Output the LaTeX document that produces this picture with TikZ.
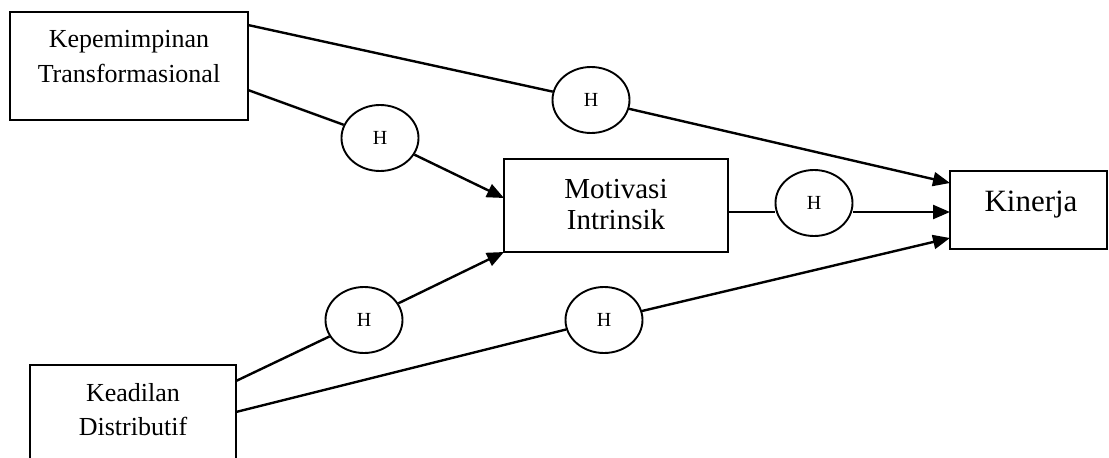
\documentclass[tikz,border=0pt]{standalone}
\usepackage{fontspec}
\setmainfont{Liberation Serif}
\usetikzlibrary{arrows.meta,shapes.geometric}
\begin{document}
\begin{tikzpicture}[x=1pt,y=-1pt,
  box/.style={draw,line width=1.8pt,inner sep=0pt},
  hyp/.style={draw,ellipse,line width=1.9pt,fill=white,minimum width=77pt,
    minimum height=66pt,inner sep=0pt,font=\fontsize{20}{24}\selectfont},
  link/.style={line width=2.4pt},
  arr/.style={link,-{Triangle[length=17pt,width=14pt]}},
  txt/.style={align=center,inner sep=0pt,anchor=base}]
\clip (0,0) rectangle (1109,458);

% variable boxes
\node[box,minimum width=238pt,minimum height=108pt] (kt) at (129,66) {};
\node[box,minimum width=206pt,minimum height=108pt] (kd) at (133,419) {};
\node[box,minimum width=224pt,minimum height=93pt] (mi) at (616,205.5) {};
\node[box,minimum width=157pt,minimum height=78pt] (ki) at (1028.5,210) {};

% box labels (anchored on the baseline of their last line)
\node[txt,font=\fontsize{26}{35}\selectfont] (ktl) at (129,82) {Kepemimpinan\\Transformasional};
\node[txt,font=\fontsize{26}{34}\selectfont] (kdl) at (133,435) {Keadilan\\Distributif};
\node[txt,font=\fontsize{29}{31}\selectfont] (mil) at (616,229) {Motivasi\\Intrinsik};
\node[txt,font=\fontsize{31}{34}\selectfont] (kil) at (1031,211) {Kinerja};

% hypothesis ellipses
\node[hyp] (hA) at (591,100) {H};
\node[hyp] (hB) at (380,138) {H};
\node[hyp] (hC) at (814,203) {H};
\node[hyp] (hD) at (364,320) {H};
\node[hyp] (hE) at (604,320) {H};

% connector end points on box edges
\coordinate (ktA) at (248,25);
\coordinate (ktB) at (248,90);
\coordinate (kdA) at (236,381);
\coordinate (kdB) at (236,412);
\coordinate (miIn1) at (504,198);
\coordinate (miIn2) at (504,252);
\coordinate (miOut) at (728,212);
\coordinate (kiIn1) at (950,183);
\coordinate (kiIn2) at (950,212);
\coordinate (kiIn3) at (950,238);

% paths
\draw[link] (ktA) -- (hA);
\draw[arr] (hA) -- (kiIn1);
\draw[link] (ktB) -- (hB);
\draw[arr] (hB) -- (miIn1);
\draw[link] (miOut) -- (hC.west |- miOut);
\draw[arr] (hC.east |- miOut) -- (kiIn2);
\draw[link] (kdA) -- (hD);
\draw[arr] (hD) -- (miIn2);
\draw[link] (kdB) -- (hE);
\draw[arr] (hE) -- (kiIn3);
\end{tikzpicture}
\end{document}
